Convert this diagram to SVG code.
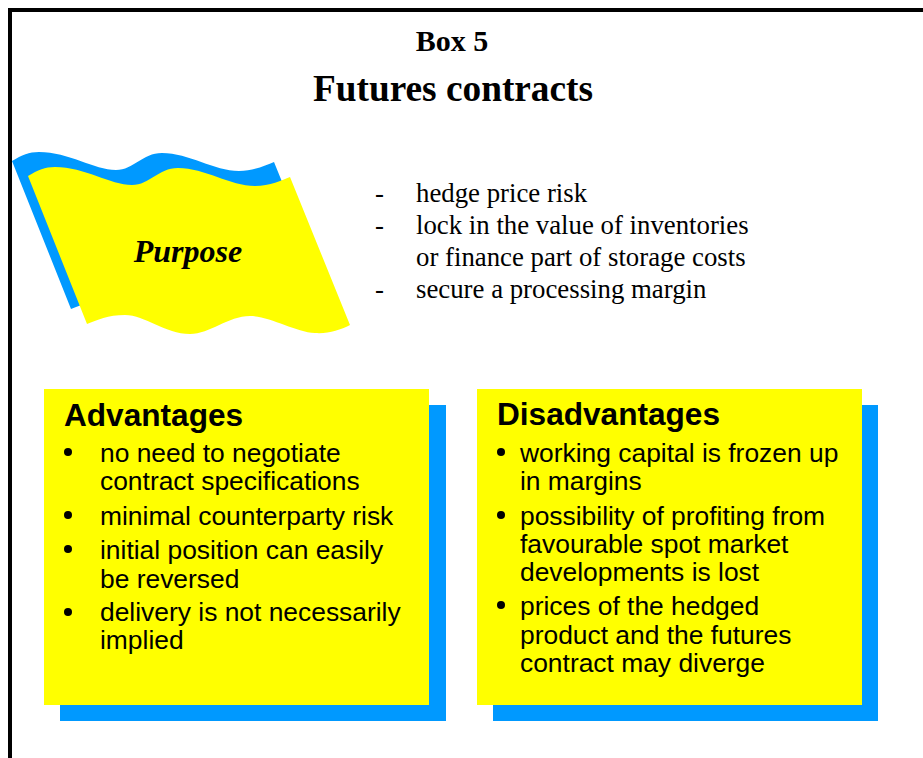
<svg xmlns="http://www.w3.org/2000/svg" width="923" height="758" viewBox="0 0 923 758">
<defs>
<style>
.title{font-family:"Liberation Serif","Times New Roman",serif;font-weight:bold;fill:#000;text-anchor:middle}
.list{font-family:"Liberation Serif","Times New Roman",serif;font-size:26.8px;fill:#000}
.head{font-family:"Liberation Sans",Arial,sans-serif;font-weight:bold;font-size:31.6px;fill:#000}
.item{font-family:"Liberation Sans",Arial,sans-serif;font-size:26.4px;fill:#000}
.yellow{fill:#FFFF00}
.blue{fill:#0099FF}
</style>
<path id="flagShape" d="M28,176 C38,170 45,167 55,167 C85,167 110,185 132,185 C150,185 158,168 178,168 C205,168 230,186 255,186 C270,186 282,180 290,177 L350,325 C340,330 328,334 315,333 C295,332 270,316 250,316 C228,316 210,334 190,334 C165,334 145,315 125,315 C108,315 97,320 87,324 Z"/>
</defs>
<rect width="923" height="758" fill="#fff"/>
<path d="M10,758 V10 H923" fill="none" stroke="#000" stroke-width="4"/>

<g id="title">
<text class="title" x="452" y="51" font-size="30">Box 5</text>
<text class="title" x="453" y="101" font-size="37.3">Futures contracts</text>
</g>

<g id="purpose">
<use href="#flagShape" class="blue" transform="translate(-16,-15)"/>
<use href="#flagShape" class="yellow"/>
<text x="188" y="262" font-family="'Liberation Serif','Times New Roman',serif" font-weight="bold" font-style="italic" font-size="32" text-anchor="middle">Purpose</text>
</g>

<g id="purpose-list" class="list">
<text x="375" y="202">-</text><text x="416" y="202">hedge price risk</text>
<text x="375" y="234">-</text><text x="416" y="234">lock in the value of inventories</text>
<text x="416" y="266">or finance part of storage costs</text>
<text x="375" y="298">-</text><text x="416" y="298">secure a processing margin</text>
</g>

<g id="advantages">
<rect class="blue" x="60" y="405" width="386" height="316"/>
<rect class="yellow" x="44" y="389" width="385" height="316"/>
<text class="head" x="64" y="426">Advantages</text>
<g fill="#000">
<circle cx="68" cy="452" r="4"/>
<circle cx="68" cy="515" r="4"/>
<circle cx="68" cy="549" r="4"/>
<circle cx="68" cy="612" r="4"/>
</g>
<g class="item">
<text x="100" y="462">no need to negotiate</text>
<text x="100" y="490">contract specifications</text>
<text x="100" y="525">minimal counterparty risk</text>
<text x="100" y="559">initial position can easily</text>
<text x="100" y="588">be reversed</text>
<text x="100" y="621">delivery is not necessarily</text>
<text x="100" y="649">implied</text>
</g>
</g>

<g id="disadvantages">
<rect class="blue" x="493" y="405" width="385" height="316"/>
<rect class="yellow" x="477" y="389" width="385" height="316"/>
<text class="head" x="497" y="425">Disadvantages</text>
<g fill="#000">
<circle cx="501" cy="452" r="4"/>
<circle cx="501" cy="515" r="4"/>
<circle cx="501" cy="605" r="4"/>
</g>
<g class="item">
<text x="520" y="462">working capital is frozen up</text>
<text x="520" y="490">in margins</text>
<text x="520" y="525">possibility of profiting from</text>
<text x="520" y="553">favourable spot market</text>
<text x="520" y="581">developments is lost</text>
<text x="520" y="615">prices of the hedged</text>
<text x="520" y="644">product and the futures</text>
<text x="520" y="672">contract may diverge</text>
</g>
</g>
</svg>
